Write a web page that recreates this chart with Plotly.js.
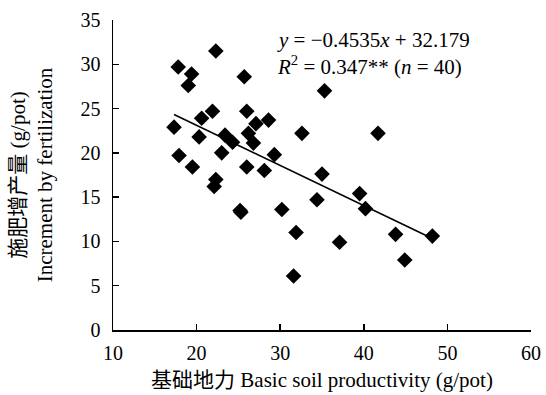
<!DOCTYPE html>
<html>
<head>
<meta charset="utf-8">
<script src="https://cdn.plot.ly/plotly-3.0.1.min.js"></script>
<style>html,body{margin:0;padding:0;background:#fff;}#chart{width:546px;height:395px;}</style>
</head>
<body>
<div id="chart"></div>
<script>
// Basic soil productivity (g/pot)
var basicProductivity = [17.3, 17.8, 17.9, 19.4, 19.0, 19.5, 20.6, 20.3, 21.9, 22.3,
  22.3, 22.1, 23.4, 23.0, 24.3, 25.2, 25.3, 25.7, 26.0, 26.2,
  26.8, 27.1, 26.0, 28.1, 28.6, 29.3, 30.2, 31.9, 31.6, 32.6,
  34.4, 35.0, 35.3, 37.1, 39.5, 40.2, 41.7, 43.8, 44.9, 48.2];
// Increment by fertilization (g/pot)
var fertIncrement = [22.9, 29.7, 19.7, 28.9, 27.6, 18.4, 23.9, 21.8, 24.7, 31.5,
  17.0, 16.2, 22.0, 20.0, 21.2, 13.5, 13.3, 28.6, 24.7, 22.2,
  21.1, 23.3, 18.4, 18.0, 23.7, 19.8, 13.6, 11.0, 6.1, 22.2,
  14.7, 17.6, 27.0, 9.9, 15.4, 13.7, 22.2, 10.8, 7.9, 10.6];
var slope = -0.4535, intercept = 32.179;
var xTicks = [10, 20, 30, 40, 50, 60];
var yTicks = [0, 5, 10, 15, 20, 25, 30, 35];

var xmin = Math.min.apply(null, basicProductivity);
var xmax = Math.max.apply(null, basicProductivity);
var fitX = [xmin, xmax];
var fitY = fitX.map(function (v) { return slope * v + intercept; });

var font = 'Liberation Serif, Times New Roman, Noto Sans CJK SC, serif';
var data = [
  {x: fitX, y: fitY, type: 'scatter', mode: 'lines', line: {color: '#000', width: 1.6}, hoverinfo: 'skip', showlegend: false},
  {x: basicProductivity, y: fertIncrement, type: 'scatter', mode: 'markers',
   marker: {symbol: 'diamond', size: 12, color: '#000', line: {width: 0}}, showlegend: false}
];
var layout = {
  width: 546, height: 395,
  margin: {l: 113, r: 15, t: 20, b: 65},
  paper_bgcolor: '#fff', plot_bgcolor: '#fff',
  font: {family: font, size: 21, color: '#000'},
  showlegend: false,
  xaxis: {
    range: [10, 60], tickvals: xTicks, ticks: 'inside', ticklen: 6, tickwidth: 1.5, tickcolor: '#000',
    showline: true, linecolor: '#000', linewidth: 1.5, showgrid: false, zeroline: false,
    tickfont: {family: font, size: 20}, fixedrange: true, automargin: false, ticklabelstandoff: 4,
    title: {text: '基础地力 Basic soil productivity (g/pot)', font: {family: font, size: 21}, standoff: 10}
  },
  yaxis: {
    range: [0, 35], tickvals: yTicks, ticks: 'inside', ticklen: 6, tickwidth: 1.5, tickcolor: '#000',
    showline: true, linecolor: '#000', linewidth: 1.5, showgrid: false, zeroline: false,
    tickfont: {family: font, size: 20}, fixedrange: true, automargin: false, ticklabelstandoff: 7,
    title: {text: '施肥增产量 (g/pot)<br>Increment by fertilization', font: {family: font, size: 21}, standoff: 22}
  },
  annotations: [
    {xref: 'paper', yref: 'paper', x: 0.388, y: 0.935, xanchor: 'left', yanchor: 'middle', showarrow: false,
     text: '<i>y</i> = −0.4535<i>x</i> + 32.179', font: {family: font, size: 21}},
    {xref: 'paper', yref: 'paper', x: 0.388, y: 0.852, xanchor: 'left', yanchor: 'middle', showarrow: false,
     text: '<i>R</i><sup>2</sup> = 0.347** (<i>n</i> = 40)', font: {family: font, size: 21}}
  ]
};
Plotly.newPlot('chart', data, layout, {displayModeBar: false, staticPlot: true});
</script>
</body>
</html>
